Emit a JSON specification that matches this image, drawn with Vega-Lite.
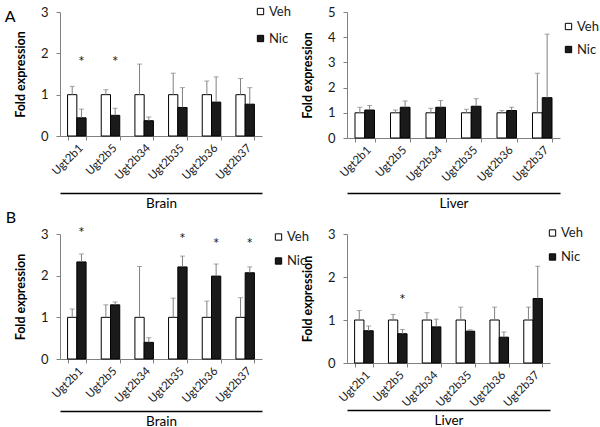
{
  "$schema": "https://vega.github.io/schema/vega-lite/v6.json",
  "padding": {"left": 4, "top": 5, "right": 0, "bottom": 0},
  "background": "white",
  "config": {
    "font": "Lato",
    "view": {"stroke": null},
    "axis": {"grid": false, "labelFont": "Lato", "titleFont": "Lato"},
    "legend": {"labelFont": "Lato"}
  },
  "datasets": {
    "bars": [
      {"panel": "A_Brain", "gene": "Ugt2b1", "group": "Veh", "value": 1, "err": 1.20, "star": null},
      {"panel": "A_Brain", "gene": "Ugt2b1", "group": "Nic", "value": 0.44, "err": 0.65, "star": 1.83},
      {"panel": "A_Brain", "gene": "Ugt2b5", "group": "Veh", "value": 1, "err": 1.12, "star": null},
      {"panel": "A_Brain", "gene": "Ugt2b5", "group": "Nic", "value": 0.50, "err": 0.67, "star": 1.83},
      {"panel": "A_Brain", "gene": "Ugt2b34", "group": "Veh", "value": 1, "err": 1.74, "star": null},
      {"panel": "A_Brain", "gene": "Ugt2b34", "group": "Nic", "value": 0.37, "err": 0.46, "star": null},
      {"panel": "A_Brain", "gene": "Ugt2b35", "group": "Veh", "value": 1, "err": 1.52, "star": null},
      {"panel": "A_Brain", "gene": "Ugt2b35", "group": "Nic", "value": 0.69, "err": 1.17, "star": null},
      {"panel": "A_Brain", "gene": "Ugt2b36", "group": "Veh", "value": 1, "err": 1.33, "star": null},
      {"panel": "A_Brain", "gene": "Ugt2b36", "group": "Nic", "value": 0.82, "err": 1.43, "star": null},
      {"panel": "A_Brain", "gene": "Ugt2b37", "group": "Veh", "value": 1, "err": 1.39, "star": null},
      {"panel": "A_Brain", "gene": "Ugt2b37", "group": "Nic", "value": 0.77, "err": 1.17, "star": null},

      {"panel": "A_Liver", "gene": "Ugt2b1", "group": "Veh", "value": 1, "err": 1.22, "star": null},
      {"panel": "A_Liver", "gene": "Ugt2b1", "group": "Nic", "value": 1.11, "err": 1.29, "star": null},
      {"panel": "A_Liver", "gene": "Ugt2b5", "group": "Veh", "value": 1, "err": 1.11, "star": null},
      {"panel": "A_Liver", "gene": "Ugt2b5", "group": "Nic", "value": 1.22, "err": 1.47, "star": null},
      {"panel": "A_Liver", "gene": "Ugt2b34", "group": "Veh", "value": 1, "err": 1.18, "star": null},
      {"panel": "A_Liver", "gene": "Ugt2b34", "group": "Nic", "value": 1.22, "err": 1.49, "star": null},
      {"panel": "A_Liver", "gene": "Ugt2b35", "group": "Veh", "value": 1, "err": 1.14, "star": null},
      {"panel": "A_Liver", "gene": "Ugt2b35", "group": "Nic", "value": 1.26, "err": 1.56, "star": null},
      {"panel": "A_Liver", "gene": "Ugt2b36", "group": "Veh", "value": 1, "err": 1.09, "star": null},
      {"panel": "A_Liver", "gene": "Ugt2b36", "group": "Nic", "value": 1.09, "err": 1.22, "star": null},
      {"panel": "A_Liver", "gene": "Ugt2b37", "group": "Veh", "value": 1, "err": 2.57, "star": null},
      {"panel": "A_Liver", "gene": "Ugt2b37", "group": "Nic", "value": 1.60, "err": 4.12, "star": null},

      {"panel": "B_Brain", "gene": "Ugt2b1", "group": "Veh", "value": 1, "err": 1.20, "star": null},
      {"panel": "B_Brain", "gene": "Ugt2b1", "group": "Nic", "value": 2.33, "err": 2.52, "star": 3.08},
      {"panel": "B_Brain", "gene": "Ugt2b5", "group": "Veh", "value": 1, "err": 1.30, "star": null},
      {"panel": "B_Brain", "gene": "Ugt2b5", "group": "Nic", "value": 1.30, "err": 1.37, "star": null},
      {"panel": "B_Brain", "gene": "Ugt2b34", "group": "Veh", "value": 1, "err": 2.22, "star": null},
      {"panel": "B_Brain", "gene": "Ugt2b34", "group": "Nic", "value": 0.40, "err": 0.51, "star": null},
      {"panel": "B_Brain", "gene": "Ugt2b35", "group": "Veh", "value": 1, "err": 1.46, "star": null},
      {"panel": "B_Brain", "gene": "Ugt2b35", "group": "Nic", "value": 2.21, "err": 2.47, "star": 2.92},
      {"panel": "B_Brain", "gene": "Ugt2b36", "group": "Veh", "value": 1, "err": 1.39, "star": null},
      {"panel": "B_Brain", "gene": "Ugt2b36", "group": "Nic", "value": 1.99, "err": 2.28, "star": 2.80},
      {"panel": "B_Brain", "gene": "Ugt2b37", "group": "Veh", "value": 1, "err": 1.47, "star": null},
      {"panel": "B_Brain", "gene": "Ugt2b37", "group": "Nic", "value": 2.07, "err": 2.21, "star": 2.80},

      {"panel": "B_Liver", "gene": "Ugt2b1", "group": "Veh", "value": 1, "err": 1.22, "star": null},
      {"panel": "B_Liver", "gene": "Ugt2b1", "group": "Nic", "value": 0.75, "err": 0.86, "star": null},
      {"panel": "B_Liver", "gene": "Ugt2b5", "group": "Veh", "value": 1, "err": 1.13, "star": null},
      {"panel": "B_Liver", "gene": "Ugt2b5", "group": "Nic", "value": 0.68, "err": 0.78, "star": 1.51},
      {"panel": "B_Liver", "gene": "Ugt2b34", "group": "Veh", "value": 1, "err": 1.17, "star": null},
      {"panel": "B_Liver", "gene": "Ugt2b34", "group": "Nic", "value": 0.84, "err": 1.02, "star": null},
      {"panel": "B_Liver", "gene": "Ugt2b35", "group": "Veh", "value": 1, "err": 1.30, "star": null},
      {"panel": "B_Liver", "gene": "Ugt2b35", "group": "Nic", "value": 0.74, "err": 0.77, "star": null},
      {"panel": "B_Liver", "gene": "Ugt2b36", "group": "Veh", "value": 1, "err": 1.30, "star": null},
      {"panel": "B_Liver", "gene": "Ugt2b36", "group": "Nic", "value": 0.60, "err": 0.72, "star": null},
      {"panel": "B_Liver", "gene": "Ugt2b37", "group": "Veh", "value": 1, "err": 1.30, "star": null},
      {"panel": "B_Liver", "gene": "Ugt2b37", "group": "Nic", "value": 1.50, "err": 2.25, "star": null}
    ]
  },
  "data": {"name": "bars"},
  "columns": 2,
  "bounds": "flush",
  "align": "each",
  "spacing": {"row": 96, "column": 85},
  "resolve": {"scale": {"fill": "independent", "x": "independent", "y": "independent", "xOffset": "independent"}, "legend": {"fill": "independent"}},
  "concat": [
    {
      "width": 202, "height": 124,
      "title": {"text": "A", "orient": "left", "angle": 0, "anchor": "end", "frame": "bounds", "offset": -12, "align": "right", "baseline": "top", "dy": 4, "fontSize": 16, "fontWeight": "normal", "color": "black"},
      "transform": [{"filter": "datum.panel === 'A_Brain'"}],
      "resolve": {"scale": {"x": "independent"}, "axis": {"x": "independent"}},
      "layer": [
        {
          "encoding": {
            "x": {"field": "gene", "type": "nominal", "sort": null, "scale": {"paddingInner": 0.45, "paddingOuter": 0.225},
                  "axis": {"title": null, "labelAngle": -45, "labelFontSize": 11.5, "labelColor": "#1a1a1a", "tickBand": "extent", "tickSize": 4, "tickColor": "#808080", "domainColor": "#808080", "labelPadding": 2}},
            "xOffset": {"field": "group", "type": "nominal", "sort": ["Veh", "Nic"], "scale": {"paddingInner": 0, "paddingOuter": 0}}
          },
          "layer": [
            {
              "mark": {"type": "bar", "stroke": "black", "strokeWidth": 1},
              "encoding": {
                "y": {"field": "value", "type": "quantitative", "scale": {"domain": [0, 3], "nice": false},
                      "axis": {"title": "Fold expression", "titleFontSize": 12.5, "titleFontWeight": "bold", "titleColor": "black", "titlePadding": 13, "labelFontSize": 13, "labelColor": "#1a1a1a", "values": [0, 1, 2, 3], "tickSize": 4, "tickColor": "#808080", "domainColor": "#808080", "labelPadding": 8}},
                "fill": {"field": "group", "type": "nominal", "sort": ["Veh", "Nic"], "scale": {"domain": ["Veh", "Nic"], "range": ["#ffffff", "#1a1a1a"]},
                         "legend": {"orient": "none", "legendX": 194, "legendY": -7, "title": null, "symbolType": "square", "symbolSize": 40, "symbolStrokeColor": "black", "symbolStrokeWidth": 1, "labelFontSize": 13, "labelColor": "#1a1a1a", "rowPadding": 13, "labelOffset": 2, "padding": 0}}
              }
            },
            {"mark": {"type": "rule", "color": "#808080", "strokeWidth": 1}, "encoding": {"y": {"field": "value", "type": "quantitative",
                      "axis": {"title": "Fold expression", "titleFontSize": 12.5, "titleFontWeight": "bold", "titleColor": "black", "titlePadding": 13, "labelFontSize": 13, "labelColor": "#1a1a1a", "values": [0, 1, 2, 3], "tickSize": 4, "tickColor": "#808080", "domainColor": "#808080", "labelPadding": 8}}, "y2": {"field": "err"}}},
            {"mark": {"type": "tick", "color": "#808080", "size": 5, "thickness": 1, "orient": "horizontal"}, "encoding": {"y": {"field": "err", "type": "quantitative",
                      "axis": {"title": "Fold expression", "titleFontSize": 12.5, "titleFontWeight": "bold", "titleColor": "black", "titlePadding": 13, "labelFontSize": 13, "labelColor": "#1a1a1a", "values": [0, 1, 2, 3], "tickSize": 4, "tickColor": "#808080", "domainColor": "#808080", "labelPadding": 8}}}},
            {"transform": [{"filter": "datum.star != null"}], "mark": {"type": "text", "text": "*", "fontSize": 15, "baseline": "middle", "dy": 2, "color": "#1a1a1a"}, "encoding": {"y": {"field": "star", "type": "quantitative",
                      "axis": {"title": "Fold expression", "titleFontSize": 12.5, "titleFontWeight": "bold", "titleColor": "black", "titlePadding": 13, "labelFontSize": 13, "labelColor": "#1a1a1a", "values": [0, 1, 2, 3], "tickSize": 4, "tickColor": "#808080", "domainColor": "#808080", "labelPadding": 8}}}}
          ]
        },
        {
          "mark": {"type": "tick", "opacity": 0},
          "encoding": {"x": {"field": "gene", "type": "nominal", "sort": null,
            "axis": {"orient": "bottom", "offset": 57, "labels": false, "ticks": false, "domainColor": "black", "domainWidth": 1.3, "title": "Brain", "titleFontSize": 13.5, "titleFontWeight": "normal", "titleColor": "black", "titlePadding": 3}}}
        }
      ]
    },
    {
      "width": 213, "height": 126,
      "transform": [{"filter": "datum.panel === 'A_Liver'"}],
      "resolve": {"scale": {"x": "independent"}, "axis": {"x": "independent"}},
      "layer": [
        {
          "encoding": {
            "x": {"field": "gene", "type": "nominal", "sort": null, "scale": {"paddingInner": 0.45, "paddingOuter": 0.225},
                  "axis": {"title": null, "labelAngle": -45, "labelFontSize": 11.5, "labelColor": "#1a1a1a", "tickBand": "extent", "tickSize": 4, "tickColor": "#808080", "domainColor": "#808080", "labelPadding": 2}},
            "xOffset": {"field": "group", "type": "nominal", "sort": ["Veh", "Nic"], "scale": {"paddingInner": 0, "paddingOuter": 0}}
          },
          "layer": [
            {
              "mark": {"type": "bar", "stroke": "black", "strokeWidth": 1},
              "encoding": {
                "y": {"field": "value", "type": "quantitative", "scale": {"domain": [0, 5], "nice": false},
                      "axis": {"title": "Fold expression", "titleFontSize": 12.5, "titleFontWeight": "bold", "titleColor": "black", "titlePadding": 13, "labelFontSize": 13, "labelColor": "#1a1a1a", "values": [0, 1, 2, 3, 4, 5], "tickSize": 4, "tickColor": "#808080", "domainColor": "#808080", "labelPadding": 8}},
                "fill": {"field": "group", "type": "nominal", "sort": ["Veh", "Nic"], "scale": {"domain": ["Veh", "Nic"], "range": ["#ffffff", "#1a1a1a"]},
                         "legend": {"orient": "none", "legendX": 215, "legendY": 8, "title": null, "symbolType": "square", "symbolSize": 40, "symbolStrokeColor": "black", "symbolStrokeWidth": 1, "labelFontSize": 13, "labelColor": "#1a1a1a", "rowPadding": 9, "labelOffset": 2, "padding": 0}}
              }
            },
            {"mark": {"type": "rule", "color": "#808080", "strokeWidth": 1}, "encoding": {"y": {"field": "value", "type": "quantitative",
                      "axis": {"title": "Fold expression", "titleFontSize": 12.5, "titleFontWeight": "bold", "titleColor": "black", "titlePadding": 13, "labelFontSize": 13, "labelColor": "#1a1a1a", "values": [0, 1, 2, 3, 4, 5], "tickSize": 4, "tickColor": "#808080", "domainColor": "#808080", "labelPadding": 8}}, "y2": {"field": "err"}}},
            {"mark": {"type": "tick", "color": "#808080", "size": 5, "thickness": 1, "orient": "horizontal"}, "encoding": {"y": {"field": "err", "type": "quantitative",
                      "axis": {"title": "Fold expression", "titleFontSize": 12.5, "titleFontWeight": "bold", "titleColor": "black", "titlePadding": 13, "labelFontSize": 13, "labelColor": "#1a1a1a", "values": [0, 1, 2, 3, 4, 5], "tickSize": 4, "tickColor": "#808080", "domainColor": "#808080", "labelPadding": 8}}}}
          ]
        },
        {
          "mark": {"type": "tick", "opacity": 0},
          "encoding": {"x": {"field": "gene", "type": "nominal", "sort": null,
            "axis": {"orient": "bottom", "offset": 55, "labels": false, "ticks": false, "domainColor": "black", "domainWidth": 1.3, "title": "Liver", "titleFontSize": 13.5, "titleFontWeight": "normal", "titleColor": "black", "titlePadding": 3}}}
        }
      ]
    },
    {
      "width": 202, "height": 125,
      "title": {"text": "B", "orient": "left", "angle": 0, "anchor": "end", "frame": "bounds", "offset": -12, "align": "right", "baseline": "top", "dy": -16, "fontSize": 16, "fontWeight": "normal", "color": "black"},
      "transform": [{"filter": "datum.panel === 'B_Brain'"}],
      "resolve": {"scale": {"x": "independent"}, "axis": {"x": "independent"}},
      "layer": [
        {
          "encoding": {
            "x": {"field": "gene", "type": "nominal", "sort": null, "scale": {"paddingInner": 0.45, "paddingOuter": 0.225},
                  "axis": {"title": null, "labelAngle": -45, "labelFontSize": 11.5, "labelColor": "#1a1a1a", "tickBand": "extent", "tickSize": 4, "tickColor": "#808080", "domainColor": "#808080", "labelPadding": 2}},
            "xOffset": {"field": "group", "type": "nominal", "sort": ["Veh", "Nic"], "scale": {"paddingInner": 0, "paddingOuter": 0}}
          },
          "layer": [
            {
              "mark": {"type": "bar", "stroke": "black", "strokeWidth": 1},
              "encoding": {
                "y": {"field": "value", "type": "quantitative", "scale": {"domain": [0, 3], "nice": false},
                      "axis": {"title": "Fold expression", "titleFontSize": 12.5, "titleFontWeight": "bold", "titleColor": "black", "titlePadding": 13, "labelFontSize": 13, "labelColor": "#1a1a1a", "values": [0, 1, 2, 3], "tickSize": 4, "tickColor": "#808080", "domainColor": "#808080", "labelPadding": 8}},
                "fill": {"field": "group", "type": "nominal", "sort": ["Veh", "Nic"], "scale": {"domain": ["Veh", "Nic"], "range": ["#ffffff", "#1a1a1a"]},
                         "legend": {"orient": "none", "legendX": 212, "legendY": -3.5, "title": null, "symbolType": "square", "symbolSize": 40, "symbolStrokeColor": "black", "symbolStrokeWidth": 1, "labelFontSize": 13, "labelColor": "#1a1a1a", "rowPadding": 10, "labelOffset": 2, "padding": 0}}
              }
            },
            {"mark": {"type": "rule", "color": "#808080", "strokeWidth": 1}, "encoding": {"y": {"field": "value", "type": "quantitative",
                      "axis": {"title": "Fold expression", "titleFontSize": 12.5, "titleFontWeight": "bold", "titleColor": "black", "titlePadding": 13, "labelFontSize": 13, "labelColor": "#1a1a1a", "values": [0, 1, 2, 3], "tickSize": 4, "tickColor": "#808080", "domainColor": "#808080", "labelPadding": 8}}, "y2": {"field": "err"}}},
            {"mark": {"type": "tick", "color": "#808080", "size": 5, "thickness": 1, "orient": "horizontal"}, "encoding": {"y": {"field": "err", "type": "quantitative",
                      "axis": {"title": "Fold expression", "titleFontSize": 12.5, "titleFontWeight": "bold", "titleColor": "black", "titlePadding": 13, "labelFontSize": 13, "labelColor": "#1a1a1a", "values": [0, 1, 2, 3], "tickSize": 4, "tickColor": "#808080", "domainColor": "#808080", "labelPadding": 8}}}},
            {"transform": [{"filter": "datum.star != null"}], "mark": {"type": "text", "text": "*", "fontSize": 15, "baseline": "middle", "dy": 2, "color": "#1a1a1a"}, "encoding": {"y": {"field": "star", "type": "quantitative",
                      "axis": {"title": "Fold expression", "titleFontSize": 12.5, "titleFontWeight": "bold", "titleColor": "black", "titlePadding": 13, "labelFontSize": 13, "labelColor": "#1a1a1a", "values": [0, 1, 2, 3], "tickSize": 4, "tickColor": "#808080", "domainColor": "#808080", "labelPadding": 8}}}}
          ]
        },
        {
          "mark": {"type": "tick", "opacity": 0},
          "encoding": {"x": {"field": "gene", "type": "nominal", "sort": null,
            "axis": {"orient": "bottom", "offset": 52, "labels": false, "ticks": false, "domainColor": "black", "domainWidth": 1.3, "title": "Brain", "titleFontSize": 13.5, "titleFontWeight": "normal", "titleColor": "black", "titlePadding": 3}}}
        }
      ]
    },
    {
      "width": 203, "height": 129,
      "transform": [{"filter": "datum.panel === 'B_Liver'"}],
      "resolve": {"scale": {"x": "independent"}, "axis": {"x": "independent"}},
      "layer": [
        {
          "encoding": {
            "x": {"field": "gene", "type": "nominal", "sort": null, "scale": {"paddingInner": 0.45, "paddingOuter": 0.225},
                  "axis": {"title": null, "labelAngle": -45, "labelFontSize": 11.5, "labelColor": "#1a1a1a", "tickBand": "extent", "tickSize": 4, "tickColor": "#808080", "domainColor": "#808080", "labelPadding": 2}},
            "xOffset": {"field": "group", "type": "nominal", "sort": ["Veh", "Nic"], "scale": {"paddingInner": 0, "paddingOuter": 0}}
          },
          "layer": [
            {
              "mark": {"type": "bar", "stroke": "black", "strokeWidth": 1},
              "encoding": {
                "y": {"field": "value", "type": "quantitative", "scale": {"domain": [0, 3], "nice": false},
                      "axis": {"title": "Fold expression", "titleFontSize": 12.5, "titleFontWeight": "bold", "titleColor": "black", "titlePadding": 13, "labelFontSize": 13, "labelColor": "#1a1a1a", "values": [0, 1, 2, 3], "tickSize": 4, "tickColor": "#808080", "domainColor": "#808080", "labelPadding": 8}},
                "fill": {"field": "group", "type": "nominal", "sort": ["Veh", "Nic"], "scale": {"domain": ["Veh", "Nic"], "range": ["#ffffff", "#1a1a1a"]},
                         "legend": {"orient": "none", "legendX": 199, "legendY": -7.5, "title": null, "symbolType": "square", "symbolSize": 40, "symbolStrokeColor": "black", "symbolStrokeWidth": 1, "labelFontSize": 13, "labelColor": "#1a1a1a", "rowPadding": 10, "labelOffset": 2, "padding": 0}}
              }
            },
            {"mark": {"type": "rule", "color": "#808080", "strokeWidth": 1}, "encoding": {"y": {"field": "value", "type": "quantitative",
                      "axis": {"title": "Fold expression", "titleFontSize": 12.5, "titleFontWeight": "bold", "titleColor": "black", "titlePadding": 13, "labelFontSize": 13, "labelColor": "#1a1a1a", "values": [0, 1, 2, 3], "tickSize": 4, "tickColor": "#808080", "domainColor": "#808080", "labelPadding": 8}}, "y2": {"field": "err"}}},
            {"mark": {"type": "tick", "color": "#808080", "size": 5, "thickness": 1, "orient": "horizontal"}, "encoding": {"y": {"field": "err", "type": "quantitative",
                      "axis": {"title": "Fold expression", "titleFontSize": 12.5, "titleFontWeight": "bold", "titleColor": "black", "titlePadding": 13, "labelFontSize": 13, "labelColor": "#1a1a1a", "values": [0, 1, 2, 3], "tickSize": 4, "tickColor": "#808080", "domainColor": "#808080", "labelPadding": 8}}}},
            {"transform": [{"filter": "datum.star != null"}], "mark": {"type": "text", "text": "*", "fontSize": 15, "baseline": "middle", "dy": 2, "color": "#1a1a1a"}, "encoding": {"y": {"field": "star", "type": "quantitative",
                      "axis": {"title": "Fold expression", "titleFontSize": 12.5, "titleFontWeight": "bold", "titleColor": "black", "titlePadding": 13, "labelFontSize": 13, "labelColor": "#1a1a1a", "values": [0, 1, 2, 3], "tickSize": 4, "tickColor": "#808080", "domainColor": "#808080", "labelPadding": 8}}}}
          ]
        },
        {
          "mark": {"type": "tick", "opacity": 0},
          "encoding": {"x": {"field": "gene", "type": "nominal", "sort": null,
            "axis": {"orient": "bottom", "offset": 47, "labels": false, "ticks": false, "domainColor": "black", "domainWidth": 1.3, "title": "Liver", "titleFontSize": 13.5, "titleFontWeight": "normal", "titleColor": "black", "titlePadding": 3}}}
        }
      ]
    }
  ]
}
